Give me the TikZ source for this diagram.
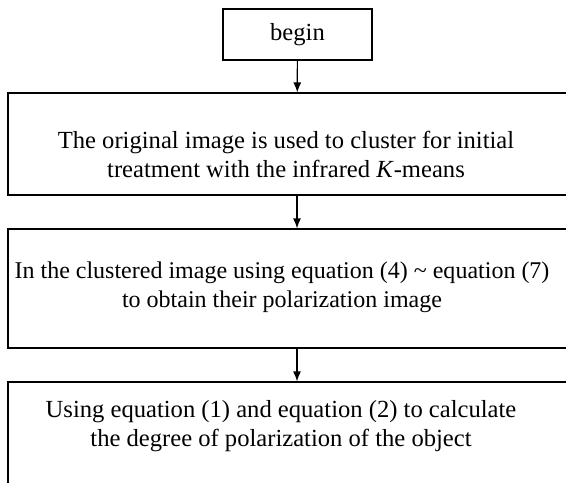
\documentclass[tikz,border=0pt]{standalone}
\usepackage{fontspec}
\setmainfont{Liberation Serif}
\usetikzlibrary{arrows.meta}

\tikzset{
  stepbox/.style={draw, line width=0.6pt, inner sep=0pt},
  steptext/.style={align=center, font=\fontsize{12.3}{14.5}\selectfont, inner sep=0pt}
}

\begin{document}
\begin{tikzpicture}[x=0.5pt, y=-0.5pt, line width=0.6pt]
  %flow chart
    \clip (0,0) rectangle (566,482);
    \fill[white] (0,0) rectangle (566,482);

    \node[stepbox, minimum width=74.5pt, minimum height=25.5pt, font=\fontsize{12.3}{14.5}\selectfont] (b1) at (297.5,34.5) {begin};
    \node[stepbox, minimum width=289pt, minimum height=51pt] (b2) at (297,144) {};
    \node[stepbox, minimum width=289pt, minimum height=59.5pt] (b3) at (297,288.5) {};
    \node[stepbox, minimum width=289pt, minimum height=69pt] (b4) at (297,451) {};

    \node[steptext] (t2) at (286,154.5) {The original image is used to cluster for initial\\treatment with the infrared \textit{K}-means};
    \node[steptext, font=\fontsize{12}{14.5}\selectfont] (t3) at (282,287.5) {In the clustered image using equation (4) \textasciitilde\ equation (7)\\to obtain their polarization image};
    \node[steptext] (t4) at (281,426.5) {Using equation (1) and equation (2) to calculate\\the degree of polarization of the object};

    \draw[-{Latex[length=5pt,width=4pt]}] (b1) -- (b2);
    \draw[-{Latex[length=5pt,width=4pt]}] (b2) -- (b3);
    \draw[-{Latex[length=5pt,width=4pt]}] (b3) -- (b4);
  \end{tikzpicture}
\end{document}
